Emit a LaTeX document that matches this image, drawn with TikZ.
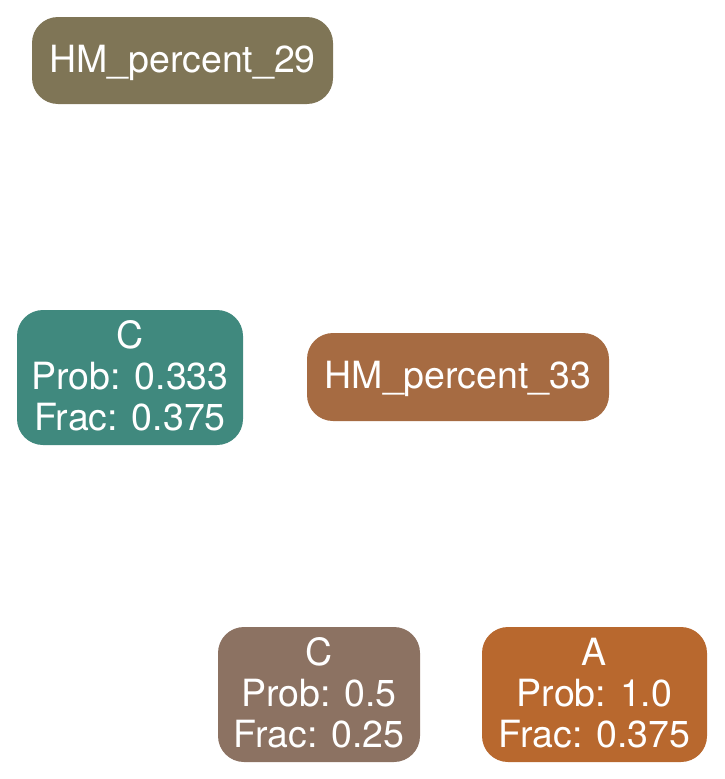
\documentclass[tikz,border=0pt]{standalone}
\usepackage{fontspec}
\setmainfont{TeX Gyre Heros}
\definecolor{cOlive}{HTML}{7F7556}
\definecolor{cTeal}{HTML}{40897E}
\definecolor{cRust}{HTML}{A66B42}
\definecolor{cTaupe}{HTML}{8C7262}
\definecolor{cOrange}{HTML}{B8682E}
\newcommand{\mlines}[1]{\raisebox{-4pt}[\height][\depth]{\begin{tabular}{@{}c@{}}#1\end{tabular}}}
\newcommand{\oneline}[1]{\raisebox{-2pt}[\height][\depth]{#1}}
\begin{document}
\begin{tikzpicture}[x=1pt,y=-1pt,
  box/.style={rounded corners=26pt, inner sep=0pt, text=white,
    font=\fontsize{37.5}{41}\selectfont},
]
\useasboundingbox (0,0) rectangle (724,779);
\node[box, fill=cOlive, minimum width=301pt, minimum height=87pt] (hm29) at (182.5,60.5) {\oneline{HM\_percent\_29}};
\node[box, fill=cTeal, minimum width=226pt, minimum height=135pt] (c1) at (130,377.5) {\mlines{C\\Prob: 0.333\\Frac: 0.375}};
\node[box, fill=cRust, minimum width=302pt, minimum height=88pt] (hm33) at (458,377) {\oneline{HM\_percent\_33}};
\node[box, fill=cTaupe, minimum width=202pt, minimum height=135pt] (c2) at (319,694.5) {\mlines{C\\Prob: 0.5\\Frac: 0.25}};
\node[box, fill=cOrange, minimum width=225pt, minimum height=135pt] (a1) at (594.5,694.5) {\mlines{A\\Prob: 1.0\\Frac: 0.375}};
\end{tikzpicture}
\end{document}
